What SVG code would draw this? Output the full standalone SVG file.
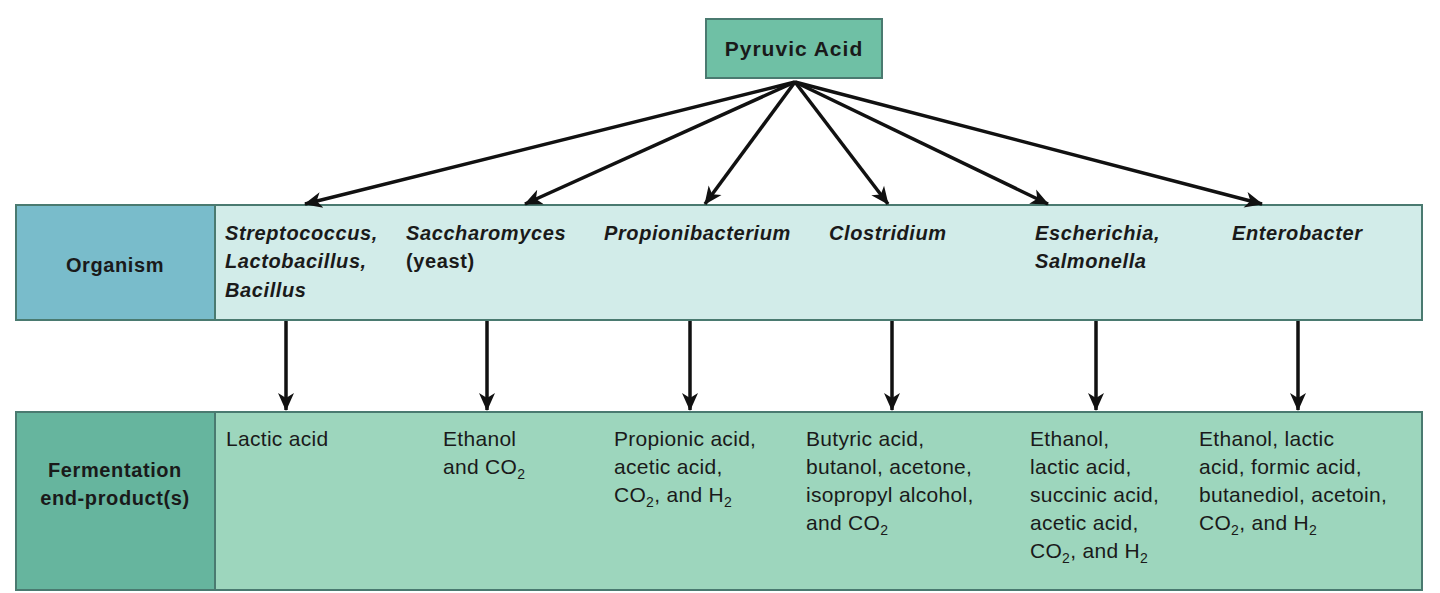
<svg xmlns="http://www.w3.org/2000/svg" width="1440" height="593" viewBox="0 0 1440 593">
<defs>
<marker id="ah" markerWidth="18" markerHeight="18" refX="17" refY="8" orient="auto" markerUnits="userSpaceOnUse" viewBox="0 0 18 16">
<path d="M0,0 L18,8 L0,16 L5,8 z" fill="#111"/>
</marker>
<style>
text{font-family:"Liberation Sans",Arial,sans-serif;font-size:20px;fill:#1a1a1a;font-weight:bold;letter-spacing:0.6px}
.i{font-style:italic}
.c{text-anchor:middle}
.n{font-weight:normal;letter-spacing:0.3px;font-size:21px}
.ln{stroke:#111;stroke-width:3.5;fill:none;marker-end:url(#ah)}
.bx{stroke:#4a7a70;stroke-width:2}
</style>
</defs>
<rect width="1440" height="593" fill="#fff"/>
<g id="pyruvic"><rect class="bx" x="706" y="19" width="176" height="59" fill="#6fc0a5"/><text class="c" x="794" y="56" style="font-size:21px;letter-spacing:1px">Pyruvic Acid</text></g>
<g id="organism-row">
<rect class="bx" x="16" y="205" width="1406" height="115" fill="#d2ece9"/>
<rect class="bx" x="16" y="205" width="199" height="115" fill="#79bccb"/>
<text class="c" x="115" y="272">Organism</text>
</g>
<g id="org1"><text class="i" x="225" y="240">Streptococcus,</text><text class="i" x="225" y="268">Lactobacillus,</text><text class="i" x="225" y="297">Bacillus</text></g>
<g id="org2"><text class="i" x="406" y="240">Saccharomyces</text><text x="406" y="268">(yeast)</text></g>
<g id="org3"><text class="i" x="604" y="240">Propionibacterium</text></g>
<g id="org4"><text class="i" x="829" y="240">Clostridium</text></g>
<g id="org5"><text class="i" x="1035" y="240">Escherichia,</text><text class="i" x="1035" y="268">Salmonella</text></g>
<g id="org6"><text class="i" x="1232" y="240">Enterobacter</text></g>
<g id="product-row">
<rect class="bx" x="16" y="412" width="1406" height="178" fill="#9dd6bd"/>
<rect class="bx" x="16" y="412" width="199" height="178" fill="#66b59e"/>
<text class="c" x="115" y="477">Fermentation</text><text class="c" x="115" y="505">end-product(s)</text>
</g>
<g id="p1"><text class="n" x="226" y="446">Lactic acid</text></g>
<g id="p2"><text class="n" x="443" y="446">Ethanol</text><text class="n" x="443" y="474">and CO<tspan font-size="14" dy="5">2</tspan></text></g>
<g id="p3"><text class="n" x="614" y="446">Propionic acid,</text><text class="n" x="614" y="474">acetic acid,</text><text class="n" x="614" y="502">CO<tspan font-size="14" dy="5">2</tspan><tspan dy="-5">, and H</tspan><tspan font-size="14" dy="5">2</tspan></text></g>
<g id="p4"><text class="n" x="806" y="446">Butyric acid,</text><text class="n" x="806" y="474">butanol, acetone,</text><text class="n" x="806" y="502">isopropyl alcohol,</text><text class="n" x="806" y="530">and CO<tspan font-size="14" dy="5">2</tspan></text></g>
<g id="p5"><text class="n" x="1030" y="446">Ethanol,</text><text class="n" x="1030" y="474">lactic acid,</text><text class="n" x="1030" y="502">succinic acid,</text><text class="n" x="1030" y="530">acetic acid,</text><text class="n" x="1030" y="558">CO<tspan font-size="14" dy="5">2</tspan><tspan dy="-5">, and H</tspan><tspan font-size="14" dy="5">2</tspan></text></g>
<g id="p6"><text class="n" x="1199" y="446">Ethanol, lactic</text><text class="n" x="1199" y="474">acid, formic acid,</text><text class="n" x="1199" y="502">butanediol, acetoin,</text><text class="n" x="1199" y="530">CO<tspan font-size="14" dy="5">2</tspan><tspan dy="-5">, and H</tspan><tspan font-size="14" dy="5">2</tspan></text></g>
<g id="connectors">
<path class="ln" d="M795,82 L305,204"/>
<path class="ln" d="M795,82 L525,204"/>
<path class="ln" d="M795,82 L705,204"/>
<path class="ln" d="M795,82 L888,204"/>
<path class="ln" d="M795,82 L1048,204"/>
<path class="ln" d="M795,82 L1262,204"/>
<path class="ln" d="M286,321 V410"/>
<path class="ln" d="M487,321 V410"/>
<path class="ln" d="M690,321 V410"/>
<path class="ln" d="M892,321 V410"/>
<path class="ln" d="M1096,321 V410"/>
<path class="ln" d="M1298,321 V410"/>
</g>
</svg>
